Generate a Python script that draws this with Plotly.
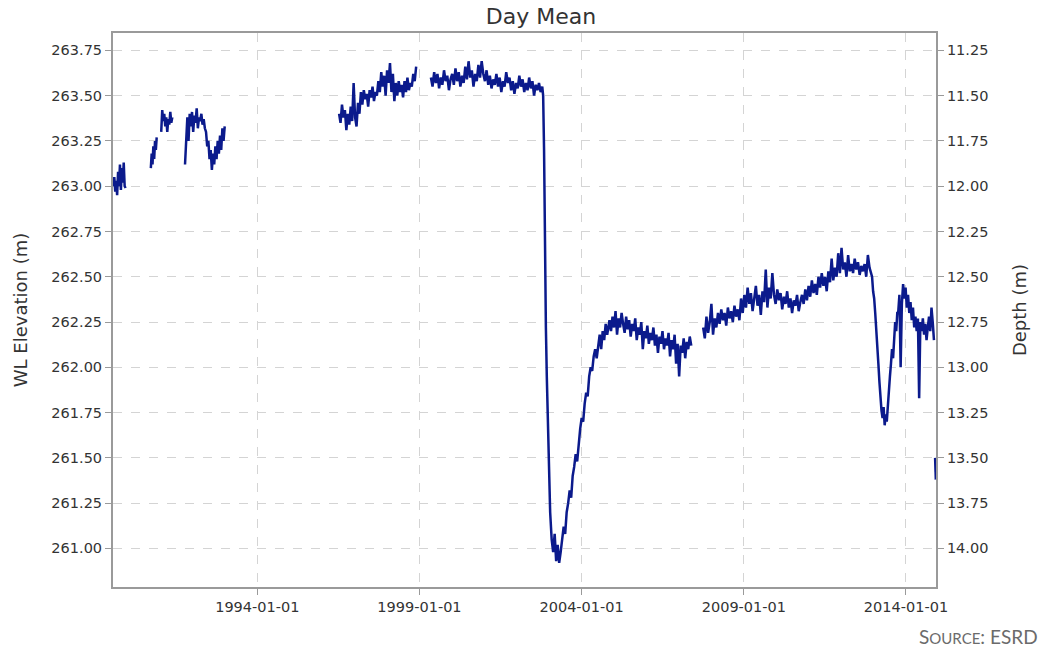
import pandas as pd
import plotly.graph_objects as go

# ---- daily-mean water level elevation (m), one array per logger record ----
seg_a_span = ("1989-07-25", "1989-12-10")
seg_a = [263.00, 263.05, 262.97, 263.03, 262.95, 263.08, 263.00, 263.12,
         262.98, 263.10, 263.02, 263.13, 263.00, 262.99]

seg_b_span = ("1990-09-20", "1990-11-25")
seg_b = [263.10, 263.18, 263.12, 263.22, 263.15, 263.25, 263.20, 263.27]

seg_c_span = ("1991-01-15", "1991-05-20")
seg_c = [263.30, 263.42, 263.36, 263.40, 263.33, 263.38, 263.30, 263.37,
         263.34, 263.41, 263.35, 263.38]

seg_d_span = ("1991-10-10", "1992-12-30")
seg_d = [263.12, 263.30, 263.38, 263.25, 263.40, 263.33, 263.41, 263.30,
         263.39, 263.35, 263.43, 263.32, 263.38, 263.36, 263.40, 263.34,
         263.37, 263.32, 263.30, 263.22, 263.25, 263.15, 263.20, 263.09,
         263.18, 263.12, 263.22, 263.15, 263.25, 263.18, 263.28, 263.20,
         263.32, 263.25, 263.33]

seg_e_span = ("1996-07-10", "1998-11-25")
seg_e = [263.40, 263.35, 263.45, 263.38, 263.42, 263.31, 263.40, 263.34,
         263.44, 263.36, 263.57, 263.38, 263.33, 263.46, 263.40, 263.52,
         263.45, 263.53, 263.48, 263.51, 263.44, 263.53, 263.49, 263.55,
         263.47, 263.52, 263.50, 263.58, 263.52, 263.63, 263.55, 263.61,
         263.50, 263.64, 263.57, 263.68, 263.52, 263.62, 263.47, 263.57,
         263.50, 263.58, 263.52, 263.56, 263.49, 263.58, 263.52, 263.60,
         263.53, 263.57, 263.55, 263.62, 263.58, 263.66]

seg_f_span = ("1999-05-10", "2002-10-15")
seg_f = [263.60, 263.55, 263.63, 263.57, 263.62, 263.54, 263.60, 263.56,
         263.64, 263.58, 263.61, 263.53, 263.59, 263.62, 263.56, 263.65,
         263.58, 263.63, 263.55, 263.61, 263.57, 263.66, 263.59, 263.69,
         263.60, 263.64, 263.55, 263.62, 263.58, 263.67, 263.60, 263.69,
         263.62, 263.58, 263.64, 263.56, 263.61, 263.54, 263.59, 263.56,
         263.62, 263.55, 263.60, 263.52, 263.58, 263.55, 263.63, 263.57,
         263.60, 263.53, 263.58, 263.51, 263.57, 263.54, 263.61, 263.55,
         263.59, 263.52, 263.57, 263.53, 263.60, 263.54, 263.58, 263.50,
         263.56, 263.53, 263.57, 263.52, 263.55]

seg_g_span = ("2002-10-25", "2003-01-05")
seg_g = [263.50, 263.20, 262.60, 262.22, 261.95, 261.70, 261.45, 261.30]

seg_h_span = ("2003-01-12", "2004-11-01")
seg_h = [261.20, 261.05, 260.98, 261.08, 260.93, 261.02, 260.92, 260.98,
         261.06, 261.12, 261.08, 261.20, 261.25, 261.32, 261.28, 261.40,
         261.45, 261.52, 261.48, 261.60, 261.66, 261.72, 261.70, 261.80,
         261.86, 261.84, 261.95, 262.00, 261.98, 262.06, 262.10, 262.05,
         262.12, 262.18, 262.10, 262.20, 262.15, 262.24, 262.18, 262.22]

seg_i_span = ("2004-11-10", "2007-05-20")
seg_i = [262.26, 262.20, 262.28, 262.22, 262.31, 262.18, 262.27, 262.22,
         262.30, 262.24, 262.19, 262.28, 262.21, 262.26, 262.17, 262.24,
         262.20, 262.27, 262.15, 262.22, 262.18, 262.25, 262.10, 262.20,
         262.16, 262.23, 262.13, 262.19, 262.15, 262.22, 262.12, 262.18,
         262.08, 262.17, 262.13, 262.20, 262.10, 262.16, 262.12, 262.19,
         262.06, 262.15, 262.10, 262.18, 262.02, 262.13, 261.95, 262.12,
         262.08, 262.16, 262.05, 262.14, 262.10, 262.17, 262.12]

seg_j_span = ("2007-10-01", "2012-12-05")
seg_j = [262.22, 262.16, 262.28, 262.19, 262.25, 262.35, 262.18, 262.27,
         262.22, 262.30, 262.24, 262.32, 262.26, 262.30, 262.23, 262.33,
         262.27, 262.31, 262.25, 262.34, 262.28, 262.32, 262.26,
         262.38, 262.30, 262.40, 262.33, 262.44, 262.35, 262.41, 262.31,
         262.38, 262.45, 262.34, 262.40, 262.29, 262.42, 262.36, 262.54,
         262.33, 262.44, 262.38, 262.52, 262.40, 262.35, 262.43, 262.37,
         262.41, 262.32, 262.39, 262.35, 262.42, 262.33, 262.38, 262.30,
         262.37, 262.34, 262.40, 262.31, 262.36,
         262.40, 262.35, 262.43, 262.37, 262.45, 262.39, 262.48, 262.41,
         262.46, 262.40, 262.50, 262.44, 262.52, 262.45, 262.50, 262.42,
         262.53, 262.47, 262.60, 262.48, 262.55, 262.50, 262.63, 262.52,
         262.66, 262.54, 262.58, 262.50, 262.62, 262.53, 262.57, 262.52,
         262.60, 262.54, 262.58, 262.51, 262.56, 262.53, 262.57, 262.50,
         262.62, 262.55, 262.52]

seg_k_span = ("2012-12-15", "2013-09-25")
seg_k = [262.50, 262.42, 262.38, 262.30, 262.22, 262.12, 262.02, 261.92,
         261.83, 261.76, 261.72, 261.78, 261.68, 261.74, 261.70, 261.80,
         261.86, 261.95, 262.02, 262.10, 262.05, 262.18, 262.25, 262.20,
         262.30]

seg_l_span = ("2013-10-05", "2014-11-12")
seg_l = [262.30, 262.40, 262.00, 262.35, 262.46, 262.38, 262.44, 262.33,
         262.40, 262.30, 262.36, 262.26, 262.33, 262.22, 262.28, 262.20,
         262.27, 261.83, 262.25, 262.20, 262.27, 262.18, 262.24, 262.15,
         262.22, 262.28, 262.20, 262.33, 262.25, 262.15]

seg_m_span = ("2014-11-25", "2014-12-03")
seg_m = [261.50, 261.38]

# records joined into one line; True means the logger stopped after that record
records = [
    (seg_a_span, seg_a, True),
    (seg_b_span, seg_b, True),
    (seg_c_span, seg_c, True),
    (seg_d_span, seg_d, True),
    (seg_e_span, seg_e, True),
    (seg_f_span, seg_f, False),
    (seg_g_span, seg_g, False),
    (seg_h_span, seg_h, False),
    (seg_i_span, seg_i, True),
    (seg_j_span, seg_j, False),
    (seg_k_span, seg_k, False),
    (seg_l_span, seg_l, True),
    (seg_m_span, seg_m, False),
]

x_range = ["1989-07-21", "2014-12-05"]
elev_range = [260.787, 263.846]
depth_datum = 275.0  # depth below reference point = datum - elevation

x_ticks = ["1994-01-01", "1999-01-01", "2004-01-01", "2009-01-01", "2014-01-01"]
elev_ticks = [261.00, 261.25, 261.50, 261.75, 262.00, 262.25, 262.50, 262.75,
              263.00, 263.25, 263.50, 263.75]
depth_ticks = [11.25, 11.50, 11.75, 12.00, 12.25, 12.50, 12.75, 13.00,
               13.25, 13.50, 13.75, 14.00]

dates, elev = [], []
for (start, end), vals, gap in records:
    d = pd.date_range(start, end, periods=len(vals))
    dates.extend(list(d))
    elev.extend(vals)
    if gap:
        dates.append(d[-1] + pd.Timedelta(days=1))
        elev.append(None)

depth = [None if v is None else depth_datum - v for v in elev]

LINE = "#0b1a8c"
AXIS = "#9a9a9a"
GRID = "#d4d4d4"
TXT = "#333333"
FONT = "DejaVu Sans, Verdana, sans-serif"

fig = go.Figure()
fig.add_trace(go.Scatter(
    x=dates, y=elev, mode="lines", connectgaps=False,
    line=dict(color=LINE, width=2.5), name="Day Mean", showlegend=False,
))
# same record expressed as depth, drawn invisibly to carry the right-hand axis
fig.add_trace(go.Scatter(
    x=dates, y=depth, mode="lines", yaxis="y2", connectgaps=False,
    line=dict(color="rgba(0,0,0,0)", width=0), hoverinfo="skip",
    showlegend=False,
))

fig.update_layout(
    width=1042, height=649,
    margin=dict(l=113, r=106, t=33, b=62),
    paper_bgcolor="white", plot_bgcolor="white",
    font=dict(family=FONT, color=TXT, size=14.5),
    title=dict(text="Day Mean", x=541 / 1042, xanchor="center", y=0.975,
               yanchor="middle", font=dict(size=22, color=TXT, family=FONT)),
    xaxis=dict(
        type="date", range=x_range,
        tickvals=x_ticks, ticktext=x_ticks,
        showgrid=True, gridcolor=GRID, griddash="dash", gridwidth=1,
        showline=True, linecolor=AXIS, linewidth=1.5, mirror=True,
        ticks="outside", ticklen=6, tickcolor=AXIS,
        tickfont=dict(size=14.5, color=TXT), zeroline=False,
    ),
    yaxis=dict(
        range=elev_range, tickvals=elev_ticks, tickformat=".2f",
        showgrid=True, gridcolor=GRID, griddash="dash", gridwidth=1,
        showline=True, linecolor=AXIS, linewidth=2, mirror=True,
        ticks="outside", ticklen=6, tickcolor=AXIS,
        tickfont=dict(size=14.5, color=TXT), zeroline=False,
        title=dict(text="WL Elevation (m)", font=dict(size=18, color=TXT),
                   standoff=19),
    ),
    yaxis2=dict(
        overlaying="y", side="right",
        range=[depth_datum - elev_range[0], depth_datum - elev_range[1]],
        tickvals=depth_ticks, tickformat=".2f",
        showgrid=False, showline=True, linecolor=AXIS, linewidth=2,
        ticks="outside", ticklen=6, tickcolor=AXIS,
        tickfont=dict(size=14.5, color=TXT), zeroline=False,
        title=dict(text="Depth (m)", font=dict(size=18, color=TXT),
                   standoff=26),
    ),
)

fig.add_annotation(
    text="S<span style='font-size:15px'>OURCE</span>: ESRD",
    xref="paper", yref="paper", x=(1040 - 113) / 823, y=(587 - 636) / 554,
    xanchor="right", yanchor="middle", showarrow=False,
    font=dict(family="Lato, Open Sans, sans-serif", size=19, color="#6b6b6b"),
)

fig.write_html("out.html")
